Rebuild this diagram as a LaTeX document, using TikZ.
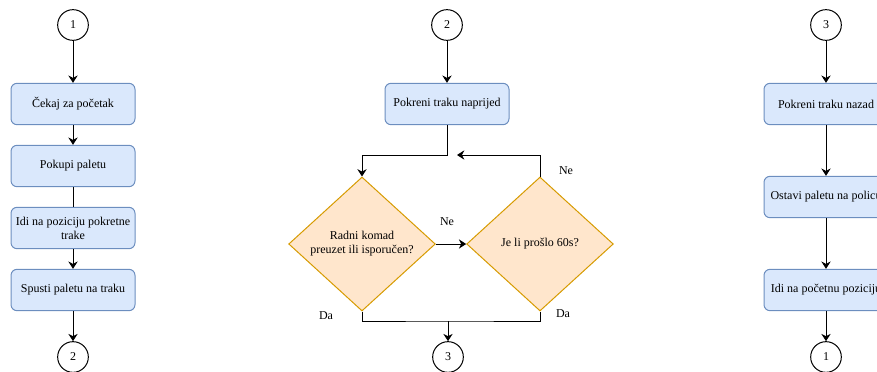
\documentclass[tikz,border=0pt]{standalone}
\usepackage{fontspec}
\setmainfont{Liberation Serif}
\usetikzlibrary{shapes.geometric,arrows.meta}

\definecolor{plavaispuna}{HTML}{DAE8FC}
\definecolor{plavarub}{HTML}{6C8EBF}
\definecolor{narispuna}{HTML}{FFE6CC}
\definecolor{narrub}{HTML}{D79B00}

\begin{document}
\begin{tikzpicture}[x=0.75pt, y=-0.75pt,
		font=\fontsize{9}{10.5}\selectfont,
		korak/.style={draw=plavarub, fill=plavaispuna, rounded corners=4.5pt, line width=0.75pt,
			minimum width=93pt, minimum height=31pt, inner sep=1pt, align=center},
		odluka/.style={diamond, draw=narrub, fill=narispuna, line width=0.75pt,
			minimum width=110pt, minimum height=100.5pt, inner sep=0pt, align=center},
		spojnica/.style={circle, draw, line width=0.75pt, minimum size=23pt, inner sep=0pt},
		tok/.style={-{Stealth[length=5.5pt, width=7pt, inset=1.8pt]}, line width=0.75pt},
		veza/.style={line width=0.75pt}]
		\useasboundingbox (0,0) rectangle (877,371);
		\clip (0,0) rectangle (877,371);

		% lijevi stupac
		\node[spojnica] (c1) at (73,25) {1};
		\node[korak] (b1) at (73,104) {Čekaj za početak};
		\node[korak] (b2) at (73,166) {Pokupi paletu};
		\node[korak] (b3) at (73,228) {Idi na poziciju pokretne\\trake};
		\node[korak] (b4) at (73,290) {Spusti paletu na traku};
		\node[spojnica] (c2) at (73,357) {2};

		\draw[tok] (c1) -- (b1);
		\draw[tok] (b1) -- (b2);
		\draw[veza] (b2) -- (b3);
		\draw[tok] (b3) -- (b4);
		\draw[tok] (b4) -- (c2);

		% srednji stupac
		\node[spojnica] (c2m) at (447,25) {2};
		\node[korak] (m1) at (447,104) {Pokreni traku naprijed};
		\node[odluka] (d1) at (362,244) {Radni komad\\preuzet ili isporučen?};
		\node[odluka] (d2) at (540,244) {Je li prošlo 60s?};
		\node[spojnica] (c3m) at (448,357) {3};

		\coordinate (ulaz) at (362,155);
		\coordinate (povrat) at (457,155);
		\coordinate (spoj) at (448,321);

		\draw[tok] (c2m) -- (m1);
		\draw[tok] (m1.south) |- (ulaz) -- (d1.north);
		\draw[tok] (d1.east) -- (d2.west);
		\draw[tok] (d2.north) |- (povrat);
		\draw[veza] (d1.south) |- (spoj) -| (d2.south);
		\draw[tok] (spoj) -- (c3m);

		\node (ne1) at (447,222) {Ne};
		\node (ne2) at (566,171) {Ne};
		\node (da1) at (326,316) {Da};
		\node (da2) at (563,314) {Da};

		% desni stupac
		\node[spojnica] (c3) at (826,25) {3};
		\node[korak] (r1) at (826,104) {Pokreni traku nazad};
		\node[korak] (r2) at (826,197) {Ostavi paletu na policu};
		\node[korak] (r3) at (826,290) {Idi na početnu poziciju};
		\node[spojnica] (c1r) at (826,357) {1};

		\draw[tok] (c3) -- (r1);
		\draw[tok] (r1) -- (r2);
		\draw[tok] (r2) -- (r3);
		\draw[tok] (r3) -- (c1r);
	\end{tikzpicture}
\end{document}
